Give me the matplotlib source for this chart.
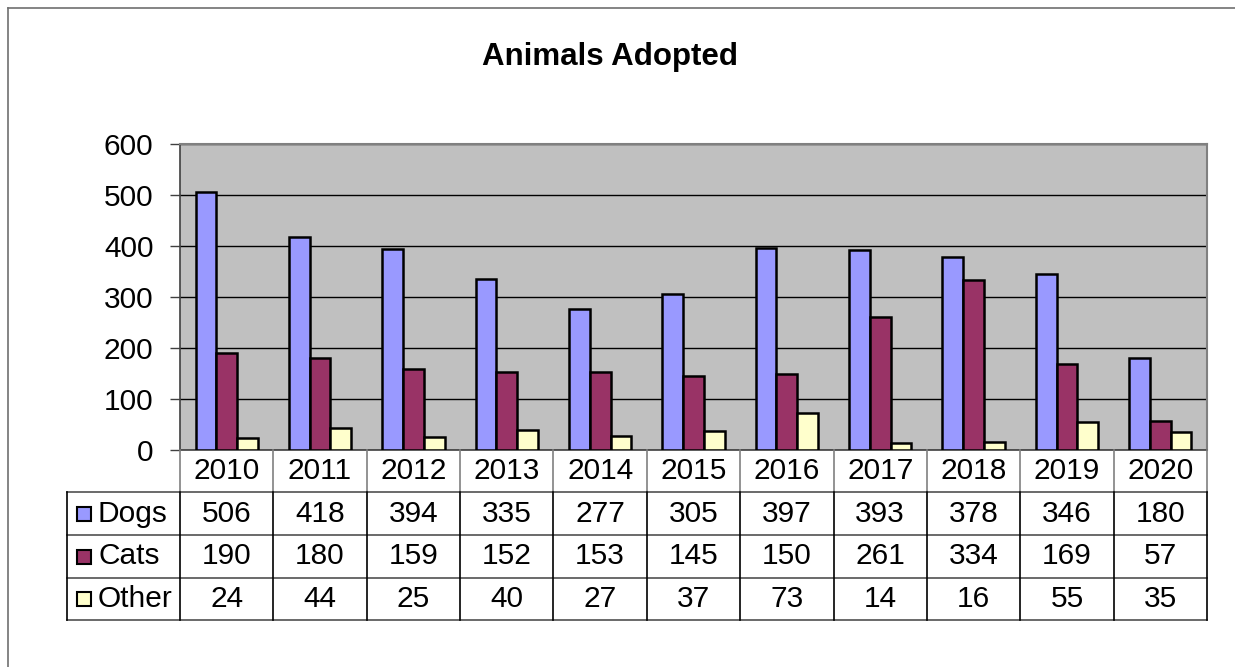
import matplotlib
matplotlib.use("Agg")
import matplotlib.pyplot as plt
from matplotlib.lines import Line2D
from matplotlib.patches import Rectangle
from matplotlib.transforms import blended_transform_factory
import numpy as np

plt.rcParams['font.family'] = ['Liberation Sans', 'DejaVu Sans']

years = ["2010", "2011", "2012", "2013", "2014", "2015", "2016", "2017", "2018", "2019", "2020"]
dogs = [506, 418, 394, 335, 277, 305, 397, 393, 378, 346, 180]
cats = [190, 180, 159, 152, 153, 145, 150, 261, 334, 169, 57]
other = [24, 44, 25, 40, 27, 37, 73, 14, 16, 55, 35]
series_names = ["Dogs", "Cats", "Other"]
series_colors = ["#9999FF", "#993366", "#FFFFCC"]
title = "Animals Adopted"
yticks = [0, 100, 200, 300, 400, 500, 600]

W, H = 1235, 667
fig = plt.figure(figsize=(W / 100, H / 100), dpi=100)
FS = 21.5

def fx(px):
    return px / W

def fy(py):
    return 1 - py / H

# outer chart border (only top and left visible in frame)
fig.add_artist(Line2D([fx(8), 1.0], [fy(8), fy(8)], transform=fig.transFigure,
                      color="#707070", linewidth=1.2))
fig.add_artist(Line2D([fx(8), fx(8)], [0.0, fy(8)], transform=fig.transFigure,
                      color="#707070", linewidth=1.2))

left, right, top, bottom = 180, 1207, 144, 450
ax = fig.add_axes([fx(left), fy(bottom), fx(right - left), fy(top) - fy(bottom)])
ax.set_facecolor("#C0C0C0")

n = len(years)
x = np.arange(n)
w = 1 / 4.5
data = [dogs, cats, other]
for k, (vals, col) in enumerate(zip(data, series_colors)):
    ax.bar(x + (k - 1) * w, vals, width=w, color=col, edgecolor="black", linewidth=1.8, zorder=3)

ax.set_xlim(-0.5, n - 0.5)
ax.set_ylim(0, 600)
ax.set_yticks(yticks)
ax.set_yticklabels([str(v) for v in yticks], fontsize=FS)
ax.yaxis.grid(True, color="#000000", linewidth=1.0, zorder=1)
ax.set_axisbelow(True)
ax.tick_params(axis='y', length=7, width=1, color="#404040", pad=12)
ax.set_xticks([])
for s in ["top", "right"]:
    ax.spines[s].set_color("#808080")
    ax.spines[s].set_linewidth(1.5)
ax.spines["left"].set_color("#404040")
ax.spines["left"].set_linewidth(1.2)
ax.spines["bottom"].set_color("#404040")
ax.spines["bottom"].set_linewidth(1.2)

fig.text(fx(610), fy(57), title, ha="center", va="center", fontsize=22.5, fontweight="bold")

# data table
trans = blended_transform_factory(ax.transData, fig.transFigure)
row_lines = [492, 535, 578, 620]
table_left = 67
for ry in row_lines:
    fig.add_artist(Line2D([fx(table_left), fx(right)], [fy(ry), fy(ry)], transform=fig.transFigure,
                          color="#505050", linewidth=1.2))
fig.add_artist(Line2D([fx(table_left), fx(table_left)], [fy(492), fy(620)], transform=fig.transFigure,
                      color="black", linewidth=1.2))
for i in range(n + 1):
    xb = i - 0.5
    fig.add_artist(Line2D([xb, xb], [fy(bottom), fy(492)], transform=trans,
                          color="#808080", linewidth=1.2))
    fig.add_artist(Line2D([xb, xb], [fy(492), fy(620)], transform=trans,
                          color="black", linewidth=1.2))

for i, yr in enumerate(years):
    fig.text(i, fy(471), yr, transform=trans, ha="center", va="center", fontsize=FS)

row_centers = [513.5, 556.5, 599]
for r, (name, vals, col) in enumerate(zip(series_names, data, series_colors)):
    yc = row_centers[r]
    for i, v in enumerate(vals):
        fig.text(i, fy(yc), str(v), transform=trans, ha="center", va="center", fontsize=FS)
    fig.add_artist(Rectangle((fx(77), fy(yc + 7)), fx(14), fy(yc - 7) - fy(yc + 7),
                             transform=fig.transFigure, facecolor=col, edgecolor="black", linewidth=1.5))
    fig.text(fx(98), fy(yc), name, ha="left", va="center", fontsize=FS)

fig.savefig("out.png", dpi=100)
